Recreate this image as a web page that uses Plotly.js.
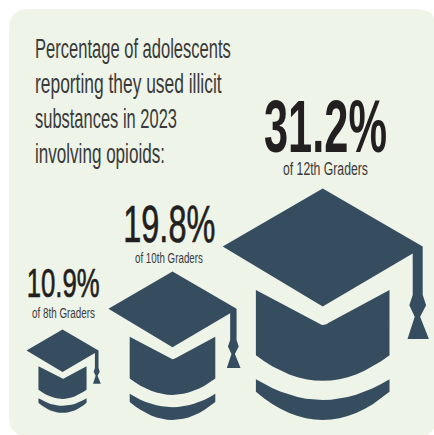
<!DOCTYPE html>
<html>
<head>
<meta charset="utf-8">
<script src="https://cdn.plot.ly/plotly-3.0.1.min.js"></script>
<style>html,body{margin:0;padding:0;background:#fff}#chart{width:434px;height:435px}</style>
</head>
<body>
<div id="chart"></div>
<script>
// Opioid involvement among adolescents reporting illicit substance use, 2023
const grades = ["8th", "10th", "12th"];
const percentages = [10.9, 19.8, 31.2];
const headingLines = [
  "Percentage of adolescents",
  "reporting they used illicit",
  "substances in 2023",
  "involving opioids:"
];

const INK = "#231f20";
const CAP = "#364d5f";
const PANEL = "#eef4e8";
const FACE = "'Liberation Sans Narrow','Liberation Sans',sans-serif";

// Cap width in axis units grows linearly with the percentage
const WIDTH_PER_POINT = 6.305;
const WIDTH_BASE = 3.3;
const capCentres = [62.5, 172.5, 322.7];
const capBottoms = [413, 420, 420];

function curve(x0, y0, cx, cy, x1, y1) {
  const out = [];
  for (let i = 0; i <= 16; i++) {
    const t = i / 16, u = 1 - t;
    out.push([u * u * x0 + 2 * u * t * cx + t * t * x1, u * u * y0 + 2 * u * t * cy + t * t * y1]);
  }
  return out;
}

// Cap outline on a unit width, y measured downward from the top corner
const BOARD = [[0, 0], [0.5, 0.29], [0.5, 0.533], [0.517, 0.584], [0.487, 0.642], [0.531, 0.753],
  [0.424, 0.753], [0.46, 0.642], [0.433, 0.584], [0.45, 0.533], [0.45, 0.325], [0, 0.59], [-0.5, 0.29], [0, 0]];
const CROWN = [[-0.334, 0.508], [-0.03, 0.672]].concat(curve(-0.03, 0.672, 0, 0.695, 0.03, 0.672),
  [[0.334, 0.508], [0.334, 0.834]], curve(0.334, 0.834, 0, 1.09, -0.334, 0.834), [[-0.334, 0.508]]);
const BAND = [[-0.334, 0.954]].concat(curve(-0.334, 0.954, 0, 1.162, 0.334, 0.954),
  [[0.334, 1.017]], curve(0.334, 1.017, 0, 1.299, -0.334, 1.017), [[-0.334, 0.954]]);
const CAP_HEIGHT = 1.158;

const traces = [];
percentages.forEach((value, i) => {
  const w = WIDTH_BASE + value * WIDTH_PER_POINT;
  const top = capBottoms[i] - CAP_HEIGHT * w;
  [BOARD, CROWN, BAND].forEach(part => {
    traces.push({
      type: "scatter", mode: "lines", fill: "toself", fillcolor: CAP,
      line: { width: 0, color: CAP }, hoverinfo: "skip", showlegend: false,
      x: part.map(p => capCentres[i] + p[0] * w),
      y: part.map(p => top + p[1] * w)
    });
  });
});

// Each text: left edge, baseline, target width, font size, weight
const valueSlots = [[26.7, 296, 73, 41, 400], [123.3, 241, 92, 52, 400], [264, 150, 123, 75, 700]];
const gradeSlots = [[32, 317, 63, 15, 400], [135, 262, 68, 15, 400], [283, 175, 85, 19, 400]];
const headingSlots = [[35, 58, 196, 27, 400], [35, 93, 187, 27, 400], [35, 128, 142, 27, 400], [35, 163, 130, 27, 400]];

const items = [];
percentages.forEach((v, i) => items.push({ text: v.toFixed(1) + "%", slot: valueSlots[i], color: INK, thicken: i < 2 }));
grades.forEach((g, i) => items.push({ text: "of " + g + " Graders", slot: gradeSlots[i], color: "#3a3a3a" }));
headingLines.forEach((t, i) => items.push({ text: t, slot: headingSlots[i], color: "#3a3a3a" }));

const annotations = items.map(it => ({
  xref: "x", yref: "y", x: it.slot[0], y: it.slot[1], xanchor: "left", yanchor: "middle",
  showarrow: false, align: "left", text: it.slot[4] === 700 ? "<b>" + it.text + "</b>" : it.text,
  font: { family: FACE, size: it.slot[3], color: it.color }
}));

const layout = {
  width: 434, height: 435, margin: { l: 0, r: 0, t: 0, b: 0 },
  paper_bgcolor: "#ffffff", plot_bgcolor: "#ffffff",
  xaxis: { range: [0, 434], visible: false, fixedrange: true },
  yaxis: { range: [435, 0], visible: false, fixedrange: true },
  shapes: [{
    type: "path", layer: "below", line: { width: 0 }, fillcolor: PANEL,
    path: "M 30 9 L 416 9 Q 437 9 437 30 L 437 416 Q 437 437 416 437 L 30 437 Q 9 437 9 416 L 9 30 Q 9 9 30 9 Z"
  }],
  annotations
};

Plotly.newPlot("chart", traces, layout, { displayModeBar: false, staticPlot: true }).then(() => {
  // Condense every label horizontally to its slot width and seat it on its baseline
  document.querySelectorAll("#chart .annotation").forEach((node, i) => {
    const text = node.querySelector("text");
    const slot = items[i].slot;
    const box = text.getBBox();
    const parent = text.parentNode.getCTM();
    const sx = slot[2] / box.width;
    const tx = slot[0] - parent.e;
    const ty = slot[1] - parent.f - (box.y + box.height * 0.79);
    text.setAttribute("transform",
      "translate(" + tx + "," + ty + ") scale(" + sx + ",1) translate(" + (-box.x) + ",0)");
    if (items[i].thicken) {
      text.style.stroke = items[i].color;
      text.style.strokeWidth = "0.7px";
    }
  });
});
</script>
</body>
</html>
